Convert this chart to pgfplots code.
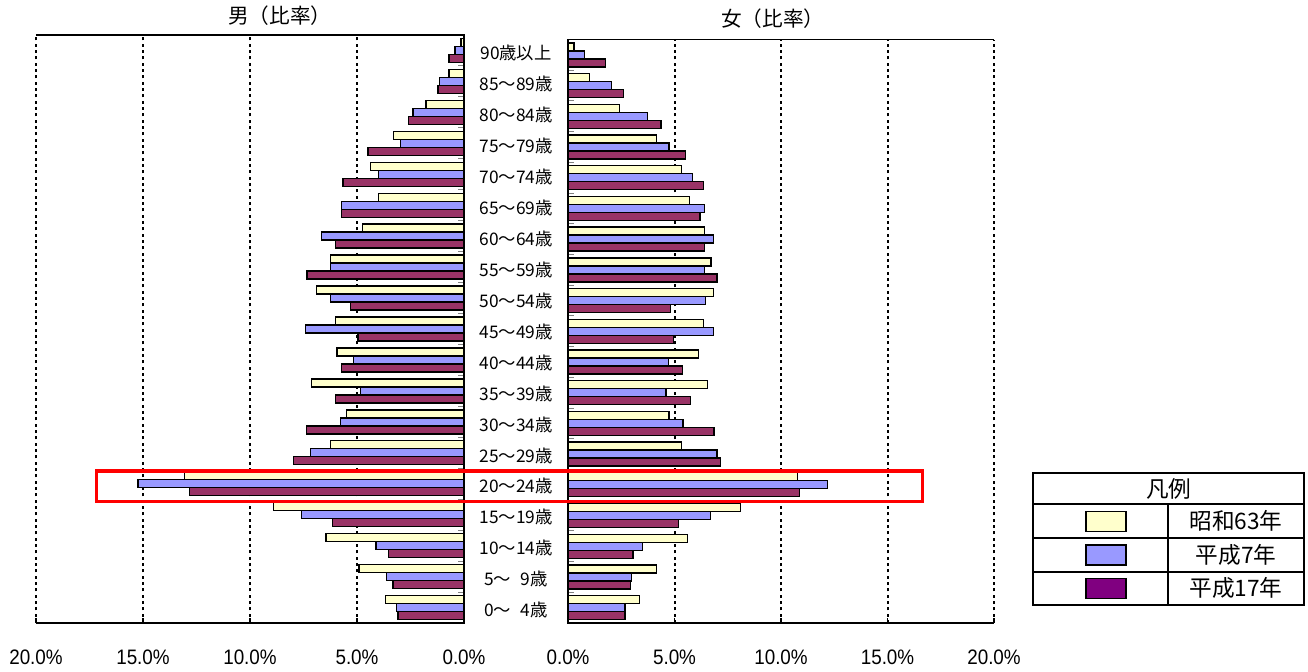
\documentclass[border=0pt]{standalone}
\usepackage{pgfplots}
\pgfplotsset{compat=1.18}
\usepackage{pgfplotstable}
\usepackage{fontspec}
\setmainfont{Noto Sans CJK JP}
\newfontfamily\numfont[FakeStretch=0.9]{Liberation Sans}
\definecolor{cY}{HTML}{FFFFCC}
\definecolor{cB}{HTML}{9999FF}
\definecolor{cP}{HTML}{993366}
\definecolor{cPL}{HTML}{800080}

\pgfplotstableread{
idx S63 H7 H17
0 3.67 3.16 3.08
1 4.91 3.61 3.32
2 6.45 4.11 3.53
3 8.91 7.58 6.15
4 13.05 15.24 12.83
5 6.24 7.17 7.97
6 5.50 5.78 7.37
7 7.12 4.84 6.02
8 5.93 5.16 5.71
9 6.02 7.41 4.95
10 6.89 6.24 5.30
11 6.24 6.24 7.33
12 4.73 6.67 6.02
13 3.99 5.71 5.71
14 4.36 3.99 5.66
15 3.30 2.96 4.48
16 1.77 2.38 2.60
17 0.70 1.14 1.22
18 0.14 0.42 0.70
}\male

\pgfplotstableread{
idx S63 H7 H17
0 3.35 2.68 2.68
1 4.15 2.99 2.92
2 5.60 3.49 3.05
3 8.09 6.70 5.18
4 10.78 12.17 10.86
5 5.32 7.00 7.15
6 4.74 5.40 6.85
7 6.56 4.60 5.76
8 6.12 4.73 5.38
9 6.35 6.84 4.96
10 6.84 6.46 4.80
11 6.71 6.40 7.00
12 6.40 6.84 6.40
13 5.70 6.40 6.20
14 5.32 5.84 6.35
15 4.16 4.74 5.52
16 2.41 3.72 4.37
17 1.00 2.03 2.61
18 0.28 0.78 1.75
}\female

\pgfplotsset{
  pyr/.style={
    scale only axis, anchor=south west, clip=false,
    xmin=0, xmax=20, ymin=-0.5, ymax=18.5,
    axis line style={draw=none},
    xtick={0,5,10,15,20},
    xticklabels={0.0\%,5.0\%,10.0\%,15.0\%,20.0\%},
    xmajorgrids,
    major grid style={black, line width=1.5pt, dash pattern=on 2.25pt off 2.5pt},
    xtick pos=bottom, tick align=inside,
    major x tick style={black, line width=0.8pt}, major tick length=4pt,
    ytick={0,...,18},
    major y tick style={draw=none},
    minor ytick={0.5,1.5,...,17.5},
    minor y tick style={gray, line width=0.8pt}, minor tick length=4.5pt,
    xticklabel style={anchor=center, yshift=-26pt, font=\numfont\fontsize{15.7}{18}\selectfont},
    bar width=6pt,
  },
  bY/.style={xbar, bar shift=6pt, fill=cY, draw=black, line width=1pt},
  bB/.style={xbar, bar shift=0pt, fill=cB, draw=black, line width=1pt},
  bP/.style={xbar, bar shift=-6pt, fill=cP, draw=black, line width=1pt},
}

\begin{document}
\begin{tikzpicture}
\path[use as bounding box] (0,0) rectangle (981pt,503.25pt);

% male (left)
\begin{axis}[pyr,
  at={(27pt,36pt)}, width=321pt, height=441pt,
  x dir=reverse,
  ytick pos=right,
  yticklabel pos=right,
  yticklabels={0～\hphantom{0}4歳,5～\hphantom{0}9歳,10～14歳,15～19歳,20～24歳,25～29歳,30～34歳,35～39歳,40～44歳,45～49歳,50～54歳,55～59歳,60～64歳,65～69歳,70～74歳,75～79歳,80～84歳,85～89歳,90歳以上},
  yticklabel style={anchor=center, xshift=39pt, yshift=-2pt, font=\fontsize{13}{15}\selectfont},
  title={男（比率）},
  title style={at={(axis description cs:0.57,1)}, anchor=center, yshift=8.5pt, font=\fontsize{15.5}{18}\selectfont},
]
\addplot[bY] table[x=S63, y=idx]{\male};
\addplot[bB] table[x=H7, y=idx]{\male};
\addplot[bP] table[x=H17, y=idx]{\male};
\draw[black, line width=1.2pt] (axis cs:20,18.5) -- (axis cs:0,18.5) -- (axis cs:0,-0.5) -- (axis cs:20,-0.5);
\end{axis}

% female (right)
\begin{axis}[pyr,
  at={(426pt,36pt)}, width=319.5pt, height=437.6pt,
  ytick pos=left,
  yticklabels={},
  title={女（比率）},
  title style={at={(axis description cs:0.481,1)}, anchor=center, yshift=9.5pt, font=\fontsize{15.5}{18}\selectfont},
]
\addplot[bY] table[x=S63, y=idx]{\female};
\addplot[bB] table[x=H7, y=idx]{\female};
\addplot[bP] table[x=H17, y=idx]{\female};
\draw[black, line width=1.2pt] (axis cs:20,18.5) -- (axis cs:0,18.5) -- (axis cs:0,-0.5) -- (axis cs:20,-0.5);
\end{axis}

% annotations and legend (pixel coordinates)
\begin{scope}[x=0.75pt, y=-0.75pt, yshift=503.25pt]
  \draw[red, line width=2.25pt] (96,471) rectangle (922.7,501.7);
  % legend table
  \draw[black, line width=1.4pt] (1033.3,473.3) rectangle (1304,605);
  \draw[black, line width=1.4pt] (1033.3,504.3) -- (1304,504.3);
  \draw[black, line width=1.4pt] (1033.3,538.3) -- (1304,538.3);
  \draw[black, line width=1.4pt] (1033.3,571.7) -- (1304,571.7);
  \draw[black, line width=1.4pt] (1168.3,504.3) -- (1168.3,605);
  \node[font=\fontsize{17}{19}\selectfont] at (1168.7,489) {凡例};
  \draw[black, line width=1.2pt, fill=cY] (1086,511.3) rectangle (1126,531.3);
  \draw[black, line width=1.2pt, fill=cB] (1086,545) rectangle (1126,565);
  \draw[black, line width=1.2pt, fill=cPL] (1086,578.3) rectangle (1126,598.3);
  \node[font=\fontsize{17}{19}\selectfont] at (1236,521.3) {昭和63年};
  \node[font=\fontsize{17}{19}\selectfont] at (1236,555) {平成7年};
  \node[font=\fontsize{17}{19}\selectfont] at (1236,588.3) {平成17年};
\end{scope}
\end{tikzpicture}
\end{document}
